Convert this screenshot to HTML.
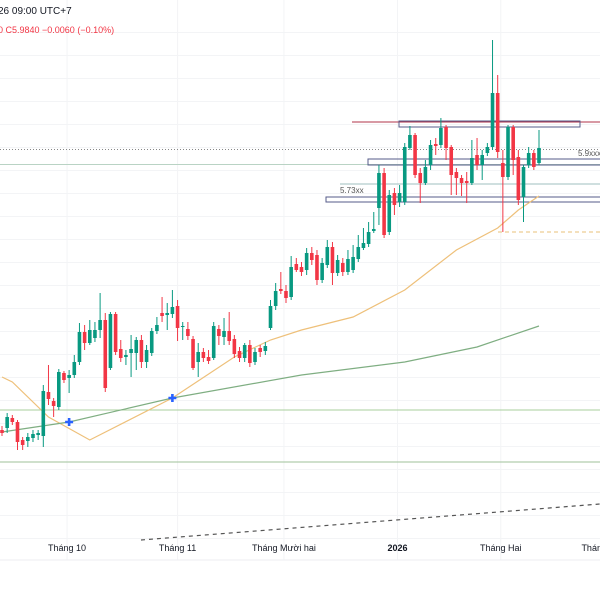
<!DOCTYPE html>
<html><head><meta charset="utf-8">
<style>
html,body{margin:0;padding:0;background:#fff;width:600px;height:600px;overflow:hidden;font-family:"Liberation Sans",sans-serif}
#chart{position:absolute;left:0;top:0}
</style></head>
<body>
<svg id="chart" width="600" height="600" xmlns="http://www.w3.org/2000/svg">
  <g id="grid"></g>
  <g id="levels">
    <line x1="0" y1="410" x2="600" y2="410" stroke="#a8cf9c" stroke-width="1"/>
    <line x1="0" y1="462" x2="600" y2="462" stroke="#9fc29a" stroke-width="1"/>
    <line x1="0" y1="164.5" x2="600" y2="164.5" stroke="#b9d3c4" stroke-width="1"/>
    <line x1="0" y1="149.5" x2="600" y2="149.5" stroke="#888" stroke-width="1" stroke-dasharray="1 2"/>
    <line x1="352" y1="122" x2="600" y2="122" stroke="#b2334a" stroke-width="1"/>
    <rect x="399" y="121" width="181" height="6" fill="none" stroke="#555b8a" stroke-width="1"/>
    <rect x="368" y="159" width="240" height="6" fill="none" stroke="#555b8a" stroke-width="1"/>
    <line x1="340" y1="184" x2="600" y2="184" stroke="#9fbfbf" stroke-width="1"/>
    <rect x="326" y="197" width="280" height="5" fill="none" stroke="#555b8a" stroke-width="1"/>
    <line x1="498" y1="232" x2="600" y2="232" stroke="#e8c27a" stroke-width="1" stroke-dasharray="4 3"/>
    <line x1="141" y1="540" x2="600" y2="504" stroke="#555" stroke-width="1.2" stroke-dasharray="4 4"/>
    <text x="340" y="193" font-size="8" fill="#555">5.73xx</text>
    <text x="578" y="156" font-size="8" fill="#555">5.9xxxx</text>
  </g>
  <g id="mas"></g>
  <g id="candles"></g>
  <g id="markers"></g>
  <line x1="0" y1="560" x2="600" y2="560" stroke="#eceef2"/>
  <g id="xaxis"></g>
  <text x="-2" y="14" font-size="10" fill="#131722">26 09:00 UTC+7</text>
  <text x="-2" y="33" font-size="9" fill="#f23645">0  C5.9840  −0.0060 (−0.10%)</text>
</svg>
<script>
// price values (arbitrary price points, higher = higher price)
const opens  =[170,172,182,178,160,159,162,165,164,208,199,193,227,222,225,238,268,257,262,270,280,232,286,251,243,247,247,260,238,247,269,287,285,286,294,273,271,261,238,248,243,242,271,263,269,261,249,242,255,238,252,249,272,294,311,309,303,336,333,330,347,345,320,335,353,327,337,328,330,341,352,356,369,392,427,368,407,398,398,452,465,427,417,435,456,455,473,453,428,422,419,417,445,435,447,453,507,437,423,473,443,403,435,447,437];
const closes =[167,183,178,158,155,163,166,167,209,201,194,228,220,225,238,268,257,270,270,280,212,286,248,242,245,251,260,238,250,269,275,284,287,293,272,274,264,232,248,242,239,274,264,269,259,246,242,255,237,248,248,254,294,309,309,302,333,330,328,347,340,320,337,353,327,340,328,341,343,353,357,368,371,427,365,405,395,407,453,465,425,417,433,455,454,472,452,425,422,417,417,442,435,445,453,507,448,423,473,440,400,433,447,433,452];
const highs  =[174,187,185,180,163,167,170,170,215,235,202,231,229,230,245,277,275,280,278,307,287,288,288,260,250,265,263,265,255,272,283,303,297,310,300,278,278,264,257,252,250,278,275,282,288,265,253,257,260,252,255,258,300,317,328,315,344,342,338,352,353,350,342,360,358,345,342,350,355,365,372,378,388,435,432,410,412,415,457,474,467,432,440,460,462,482,475,455,432,425,428,460,462,450,457,560,525,450,475,475,450,435,453,450,470];
const lows   =[164,167,175,150,150,153,158,160,153,195,183,190,217,207,222,235,250,255,258,262,208,230,245,238,235,223,230,232,232,244,266,278,270,282,259,260,260,230,223,238,236,240,255,255,255,242,238,238,233,235,243,245,270,290,306,297,300,328,324,325,335,315,317,332,315,324,324,325,327,338,350,353,367,375,362,365,385,393,395,450,422,397,415,430,445,452,440,405,405,404,397,415,430,420,444,450,442,368,420,425,395,378,432,430,435];
// moving averages (candle index, value)
const maFastIdx=[0,2,9,17,33,45,52,58,68,78,88,96,100,104];
const maFastVal=[223,218,183,160,202,243,260,270,283,310,350,372,390,404];
const maSlowIdx=[0,13,33,58,78,92,104];
const maSlowVal=[168,178,202,225,238,253,274];
const crossIdx=[13,33];
const crossVal=[178,202];
const xLabels=["Tháng 10","Tháng 11","Tháng Mười hai","2026","Tháng Hai","Tháng Ba"];
const xLabelIdx=[12.6,34,54.6,76.6,96.6,116];

const NS="http://www.w3.org/2000/svg";
const x0=2, step=(539-2)/104;
function xs(i){return x0+i*step;}
function ys(v){return 600-v;}
function mk(tag,attrs,parent){const e=document.createElementNS(NS,tag);for(const k in attrs)e.setAttribute(k,attrs[k]);parent.appendChild(e);return e;}

const grid=document.getElementById('grid');
for(let y=32;y<560;y+=23){
  const l=mk('line',{x1:0,x2:600,y1:y+0.5,y2:y+0.5,stroke:'#f3f4f6'},grid);
  
  
}
const xa=document.getElementById('xaxis');
xLabels.forEach((t,k)=>{
  const x=xs(xLabelIdx[k]);
  const g=mk('line',{x1:x,x2:x,y1:0,y2:560,stroke:'#f3f4f6'},grid);
  
  
  const tx=mk('text',{x:x,y:551,'font-size':9,'text-anchor':'middle',fill:'#131722','font-weight':t==='2026'?'bold':'normal'},xa);
  tx.textContent=t;
  
  
});

const mas=document.getElementById('mas');
function poly(idx,val,color,name){
  const pts=idx.map((i,k)=>xs(i)+','+ys(val[k])).join(' ');
  const p=mk('polyline',{points:pts,fill:'none',stroke:color,'stroke-width':1.2},mas);
  
  
}
poly(maFastIdx,maFastVal,'#eec07a','ma-fast-line');
poly(maSlowIdx,maSlowVal,'#7fae82','ma-slow-line');

const cg=document.getElementById('candles');
opens.forEach((o,i)=>{
  const c=closes[i],up=c>=o,col=up?'#089981':'#f23645',x=xs(i);
  const w=mk('line',{x1:x,x2:x,y1:ys(highs[i]),y2:ys(lows[i]),stroke:col,'stroke-width':1},cg);
  
  
  const top=ys(Math.max(o,c)),h=Math.max(1,Math.abs(o-c));
  const b=mk('rect',{x:x-1.8,y:top,width:3.6,height:h,fill:col},cg);
  
  
});

const mg=document.getElementById('markers');
crossIdx.forEach((i,k)=>{
  const x=xs(i),y=ys(crossVal[k]);
  const p=mk('path',{d:`M${x-4} ${y}H${x+4}M${x} ${y-4}V${y+4}`,stroke:'#2962ff','stroke-width':2.6},mg);
  
  
});
</script>
</body></html>
